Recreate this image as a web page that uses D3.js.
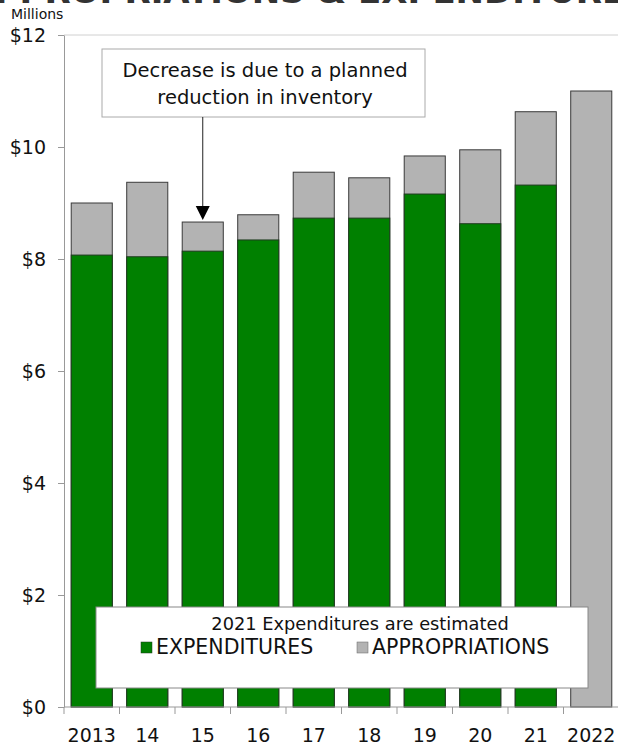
<!DOCTYPE html>
<html>
<head>
<meta charset="utf-8">
<script src="https://cdn.jsdelivr.net/npm/d3@7"></script>
<style>
  body { margin: 0; background: #fff; }
  text { font-family: "DejaVu Sans", Verdana, sans-serif; fill: #111; }
</style>
</head>
<body>
<svg id="chart" width="618" height="746"></svg>
<script>
// data (millions of dollars)
const years = ["2013", "14", "15", "16", "17", "18", "19", "20", "21", "2022"];
const expenditures = [8.07, 8.04, 8.14, 8.34, 8.73, 8.73, 9.16, 8.63, 9.32, null];
const appropriations = [9.0, 9.37, 8.66, 8.79, 9.55, 9.45, 9.84, 9.95, 10.63, 11.0];
const yTicks = [0, 2, 4, 6, 8, 10, 12];
const noteLines = ["Decrease is due to a planned", "reduction in inventory"];
const legendTitle = "2021 Expenditures are estimated";

const svg = d3.select("#chart");
const plotL = 64, plotR = 619, plotT = 35, plotB = 707;

const x = d3.scaleBand().domain(years).range([plotL, plotR]).paddingInner(0.26).paddingOuter(0.13);
const y = d3.scaleLinear().domain([0, 12]).range([plotB, plotT]);

// title, mostly cut off by the top of the picture
svg.append("text")
   .attr("x", 309).attr("y", 3)
   .attr("text-anchor", "middle")
   .style("font-size", "34px").style("font-weight", "bold").style("fill", "#333")
   .text("APPROPRIATIONS & EXPENDITURES");

svg.append("text").attr("x", 11).attr("y", 19).style("font-size", "14px").text("Millions");

// plot frame top line
svg.append("line").attr("x1", plotL).attr("x2", 618).attr("y1", plotT).attr("y2", plotT)
   .style("stroke", "#d0d0d0");

// bars: appropriation total in gray, expenditures in green over it
const rows = years.map((yr, i) => ({ yr, exp: expenditures[i], app: appropriations[i] }));

svg.selectAll("rect.app").data(rows).enter().append("rect")
   .attr("class", "app")
   .attr("x", d => x(d.yr)).attr("width", x.bandwidth())
   .attr("y", d => y(d.app)).attr("height", d => y(0) - y(d.app))
   .style("fill", "#b3b3b3").style("stroke", "#3a3a3a").style("stroke-width", 1);

svg.selectAll("rect.exp").data(rows.filter(d => d.exp != null)).enter().append("rect")
   .attr("class", "exp")
   .attr("x", d => x(d.yr)).attr("width", x.bandwidth())
   .attr("y", d => y(d.exp)).attr("height", d => y(0) - y(d.exp))
   .style("fill", "#008000").style("stroke", "#1f3a1f").style("stroke-width", 1);

// y axis
const yAxis = svg.append("g").attr("transform", `translate(${plotL},0)`)
   .call(d3.axisLeft(y).tickValues(yTicks).tickSize(6).tickSizeOuter(0).tickFormat(d => "$" + d));
yAxis.select(".domain").style("stroke", "#999");
yAxis.selectAll(".tick line").style("stroke", "#999");
yAxis.selectAll(".tick text").attr("x", -18).style("font-size", "19px").style("fill", "#111");

// x axis, ticks between categories
const xAxis = svg.append("g").attr("transform", `translate(0,${plotB})`);
xAxis.append("line").attr("x1", plotL).attr("x2", plotR).style("stroke", "#999");
const step = x.step();
xAxis.selectAll("line.tk").data(years).enter().append("line")
   .attr("class", "tk")
   .attr("x1", d => x(d) - step * 0.13).attr("x2", d => x(d) - step * 0.13)
   .attr("y1", 0).attr("y2", 7).style("stroke", "#999");
xAxis.selectAll("text").data(years).enter().append("text")
   .attr("x", d => x(d) + x.bandwidth() / 2).attr("y", 35)
   .attr("text-anchor", "middle").style("font-size", "19px")
   .text(d => d);

// annotation box with arrow to 2015
const note = svg.append("g");
note.append("rect").attr("x", 102).attr("y", 49).attr("width", 323).attr("height", 68)
   .style("fill", "#fff").style("stroke", "#aaa");
note.selectAll("text").data(noteLines).enter().append("text")
   .attr("x", 265).attr("y", (d, i) => 77 + i * 27)
   .attr("text-anchor", "middle").style("font-size", "19.5px")
   .text(d => d);
const ax = x("15") + x.bandwidth() / 2, ay = y(appropriations[2]) - 2;
note.append("line").attr("x1", ax).attr("x2", ax).attr("y1", 117).attr("y2", ay - 12)
   .style("stroke", "#222");
note.append("path").attr("d", `M${ax - 7},${ay - 14}L${ax + 7},${ay - 14}L${ax},${ay}Z`)
   .style("fill", "#000");

// legend
const lg = svg.append("g");
lg.append("rect").attr("x", 96).attr("y", 607).attr("width", 492).attr("height", 81)
   .style("fill", "#fff").style("stroke", "#888");
lg.append("text").attr("x", 360).attr("y", 630).attr("text-anchor", "middle")
   .style("font-size", "17.8px").text(legendTitle);
const items = [
  { label: "EXPENDITURES", color: "#008000", stroke: "#1f3a1f", x: 141 },
  { label: "APPROPRIATIONS", color: "#b3b3b3", stroke: "#666", x: 357 }
];
lg.selectAll("rect.sw").data(items).enter().append("rect")
   .attr("class", "sw")
   .attr("x", d => d.x).attr("y", 642).attr("width", 11).attr("height", 11)
   .style("fill", d => d.color).style("stroke", d => d.stroke).style("stroke-width", 0.5);
lg.selectAll("text.it").data(items).enter().append("text")
   .attr("class", "it")
   .attr("x", d => d.x + 15).attr("y", 654)
   .style("font-size", "20.5px").text(d => d.label);
</script>
</body>
</html>
